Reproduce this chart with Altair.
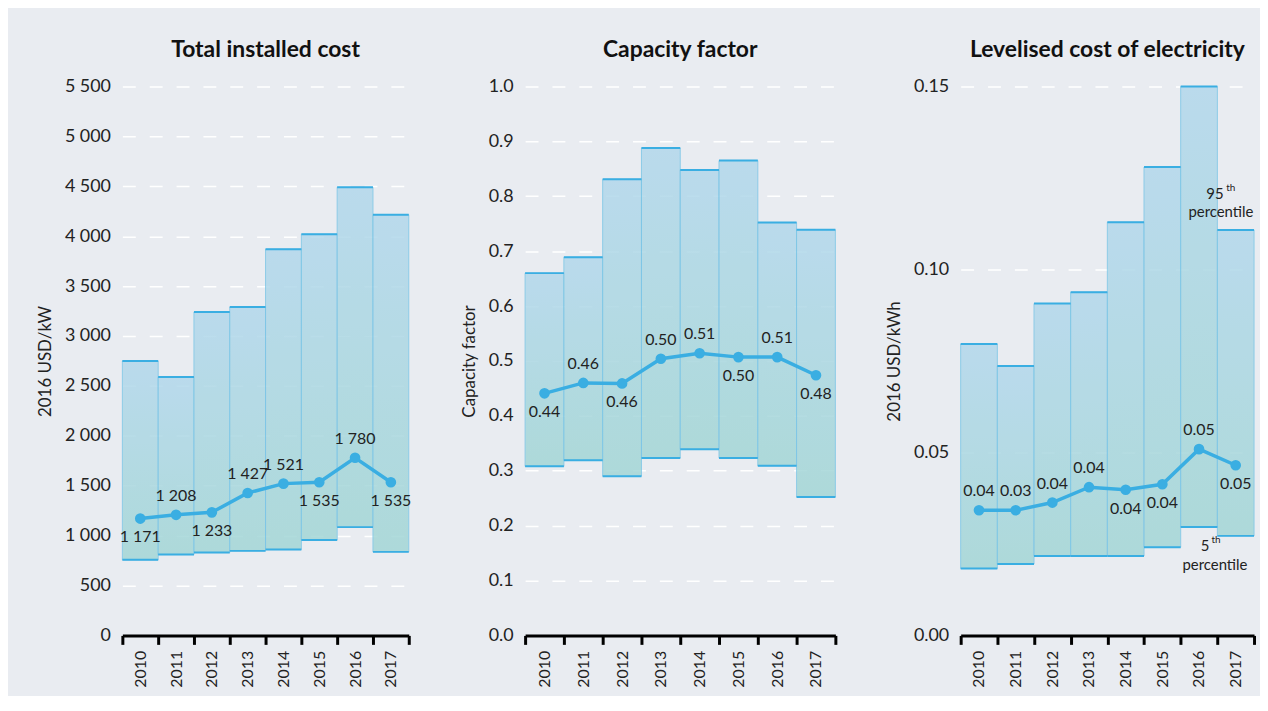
import altair as alt
import pandas as pd

FONT = "Lato"
BLUE = "#3AAEE2"
TXT = "#222222"
BG = "#E9ECF1"

years = ["2010", "2011", "2012", "2013", "2014", "2015", "2016", "2017"]

# Total installed cost (2016 USD/kW)
cost_low = [757, 810, 830, 847, 860, 955, 1085, 837]
cost_high = [2750, 2590, 3240, 3290, 3870, 4020, 4490, 4215]
cost_avg = [1171, 1208, 1233, 1427, 1521, 1535, 1780, 1535]
cost_labels = ["1 171", "1 208", "1 233", "1 427", "1 521", "1 535", "1 780", "1 535"]
cost_pos = ["below", "above", "below", "above", "above", "below", "above", "below"]
cost_ticks = [0, 500, 1000, 1500, 2000, 2500, 3000, 3500, 4000, 4500, 5000, 5500]

# Capacity factor
cf_low = [0.308, 0.319, 0.290, 0.323, 0.339, 0.323, 0.309, 0.252]
cf_high = [0.660, 0.689, 0.831, 0.888, 0.848, 0.865, 0.752, 0.739]
cf_avg = [0.441, 0.460, 0.459, 0.504, 0.514, 0.507, 0.507, 0.474]
cf_labels = ["0.44", "0.46", "0.46", "0.50", "0.51", "0.50", "0.51", "0.48"]
cf_pos = ["below", "above", "below", "above", "above", "below", "above", "below"]
cf_ticks = [0.0, 0.1, 0.2, 0.3, 0.4, 0.5, 0.6, 0.7, 0.8, 0.9, 1.0]

# Levelised cost of electricity (2016 USD/kWh)
lcoe_low = [0.0183, 0.0195, 0.0217, 0.0217, 0.0217, 0.0241, 0.0296, 0.0272]
lcoe_high = [0.0796, 0.0736, 0.0907, 0.0938, 0.1129, 0.1280, 0.1500, 0.1108]
lcoe_avg = [0.0342, 0.0342, 0.0363, 0.0405, 0.0398, 0.0413, 0.0509, 0.0465]
lcoe_labels = ["0.04", "0.03", "0.04", "0.04", "0.04", "0.04", "0.05", "0.05"]
lcoe_pos = ["above", "above", "above", "above", "below", "below", "above", "below"]
lcoe_ticks = [0.0, 0.05, 0.10, 0.15]

# Percentile annotations (LCOE panel)
ann_year = "2016"
p95_num_value = 0.1207
p95_word_value = 0.1160
p5_num_value = 0.0242
p5_word_value = 0.0198

PLOT_H = 552

grad = alt.Gradient(
    gradient="linear",
    stops=[alt.GradientStop(color="#B2D8EC", offset=0),
           alt.GradientStop(color="#A3D6D6", offset=1)],
    x1=0, x2=0, y1=0, y2=1,
)


def panel(title, ytitle, low, high, avg, labels, pos, domain, ticks, label_expr, fmt, width, extra=None):
    df = pd.DataFrame({"year": years, "low": low, "high": high, "avg": avg,
                       "label": labels, "pos": pos})
    xenc = alt.X("year:O", title=None,
                 scale=alt.Scale(paddingInner=0, paddingOuter=0),
                 axis=alt.Axis(labelAngle=270, labelFontSize=16, labelColor=TXT,
                               labelPadding=6, domainColor="#000000", domainWidth=3,
                               tickColor="#000000", tickWidth=3, tickSize=9,
                               tickBand="extent", grid=False))
    yscale = alt.Scale(domain=domain, nice=False, zero=True)
    axis_kw = dict(values=ticks, domain=False, ticks=False, labelFontSize=18,
                   labelColor=TXT, labelPadding=12, grid=True, gridColor="#FFFFFF",
                   gridDash=[13, 14], gridWidth=1.5, titleFontSize=17,
                   titleFontWeight="normal", titleColor=TXT, titlePadding=10)
    if label_expr:
        axis_kw["labelExpr"] = label_expr
    else:
        axis_kw["format"] = fmt
    yaxis = alt.Axis(**axis_kw)

    def Y(f):
        return alt.Y(f, scale=yscale, axis=yaxis, title=ytitle)

    base = alt.Chart(df).encode(x=xenc)
    band = width / len(years)
    bars = base.mark_bar(color=grad, opacity=0.85, stroke="#7CC6E6",
                         strokeWidth=1).encode(y=Y("low:Q"), y2="high:Q")
    top = base.mark_tick(color=BLUE, thickness=2, size=band, opacity=1).encode(y=Y("high:Q"))
    bot = base.mark_tick(color=BLUE, thickness=2, size=band, opacity=1).encode(y=Y("low:Q"))
    line = base.mark_line(color=BLUE, strokeWidth=3.5).encode(y=Y("avg:Q"))
    pts = base.mark_circle(color=BLUE, size=115, opacity=1).encode(y=Y("avg:Q"))
    above = base.transform_filter(alt.datum.pos == "above").mark_text(
        dy=-19, fontSize=16, color=TXT, font=FONT).encode(y=Y("avg:Q"), text="label:N")
    below = base.transform_filter(alt.datum.pos == "below").mark_text(
        dy=19, fontSize=16, color=TXT, font=FONT).encode(y=Y("avg:Q"), text="label:N")
    layers = [bars, top, bot, line, pts, above, below]
    if extra:
        for d, v, t, dx, dy, fs in extra:
            adf = pd.DataFrame({"year": [d], "v": [v], "t": [t]})
            layers.append(alt.Chart(adf).mark_text(dx=dx, dy=dy, fontSize=fs, color=TXT,
                                                   font=FONT).encode(
                x=alt.X("year:O", scale=alt.Scale(paddingInner=0, paddingOuter=0)),
                y=Y("v:Q"), text="t:N"))
    return alt.layer(*layers).properties(
        width=width, height=PLOT_H,
        title=alt.TitleParams(title, fontSize=23, font=FONT, fontWeight="bold",
                              color="#111111", offset=16, frame="group", anchor="middle"))


p1 = panel("Total installed cost", "2016 USD/kW", cost_low, cost_high, cost_avg,
           cost_labels, cost_pos, [0, 5500], cost_ticks,
           "replace(format(datum.value, ','), ',', ' ')", None, 288)
p2 = panel("Capacity factor", "Capacity factor", cf_low, cf_high, cf_avg,
           cf_labels, cf_pos, [0, 1.0], cf_ticks, None, ".1f", 312)
annotations = [
    (ann_year, p95_num_value, "95", 16, 0, 15),
    (ann_year, p95_num_value, "th", 32, -6, 10),
    (ann_year, p95_word_value, "percentile", 22, 1, 15),
    (ann_year, p5_num_value, "5", 6, -1, 15),
    (ann_year, p5_num_value, "th", 17, -7, 10),
    (ann_year, p5_word_value, "percentile", 16, 2, 15),
]
p3 = panel("Levelised cost of electricity", "2016 USD/kWh", lcoe_low, lcoe_high, lcoe_avg,
           lcoe_labels, lcoe_pos, [0, 0.15], lcoe_ticks, None, ".2f", 295, annotations)

chart = alt.hconcat(p1, p2, p3, spacing=48).properties(
    background=BG,
    padding={"left": 28, "top": 29, "right": 4, "bottom": 6},
).configure_view(stroke=None).configure_axis(labelFont=FONT, titleFont=FONT)

chart.save("out.html", embed_options={"renderer": "svg", "actions": False})
